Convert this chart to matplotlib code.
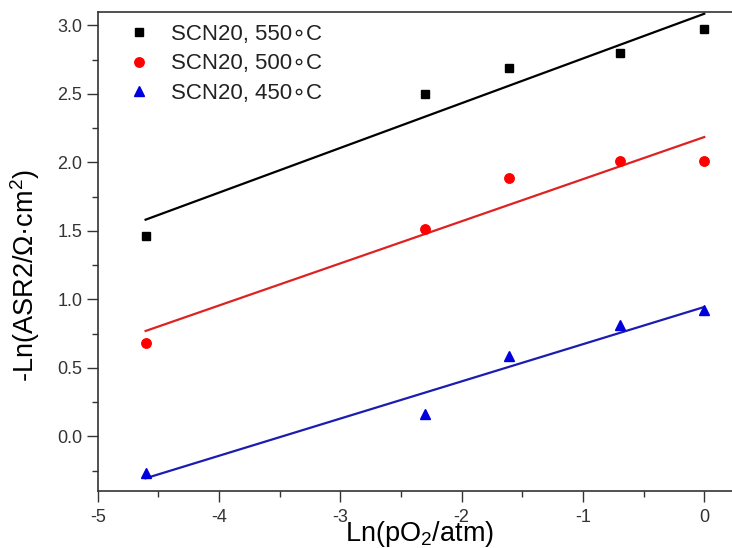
import numpy as np
import matplotlib
matplotlib.use("Agg")
import matplotlib.pyplot as plt
from matplotlib.ticker import MultipleLocator

plt.rcParams["font.family"] = ["Liberation Sans", "DejaVu Sans"]
plt.rcParams["mathtext.fontset"] = "custom"
plt.rcParams["mathtext.rm"] = "Liberation Sans"
plt.rcParams["mathtext.it"] = "Liberation Sans:italic"

# ln(pO2 / atm) for pO2 = 0.01, 0.1, 0.2, 0.5, 1 atm
ln_po2 = np.log([0.01, 0.1, 0.2, 0.5, 1.0])

y_550 = [1.464, 2.496, 2.690, 2.795, 2.971]
y_500 = [0.679, 1.511, 1.885, 2.009, 2.009]
y_450 = [-0.263, 0.163, 0.588, 0.812, 0.924]

labels = ["SCN20, 550\u2218C", "SCN20, 500\u2218C", "SCN20, 450\u2218C"]
marker_colors = ["black", "#ff0000", "#0000dd"]
line_colors = ["black", "#dd2222", "#1c1cb0"]
markers = ["s", "o", "^"]
msizes = [6.0, 6.8, 7.5]

fig = plt.figure(figsize=(7.32, 5.48), dpi=100)
ax = fig.add_axes([0.1335, 0.1035, 0.8783, 0.8741])

for ys, lab, mc, lc, mk, ms in zip([y_550, y_500, y_450], labels,
                                    marker_colors, line_colors, markers, msizes):
    ax.plot(ln_po2, ys, linestyle="none", marker=mk, color=mc,
            markersize=ms, label=lab, zorder=3)
    slope, intercept = np.polyfit(ln_po2, ys, 1)
    xs = np.array([ln_po2.min(), ln_po2.max()])
    ax.plot(xs, slope * xs + intercept, color=lc, linewidth=1.6, zorder=2)

ax.set_xlim(-5, 0.3)
ax.set_ylim(-0.4, 3.095)
ax.xaxis.set_minor_locator(MultipleLocator(0.5))
ax.yaxis.set_minor_locator(MultipleLocator(0.25))
ax.set_xticks([-5, -4, -3, -2, -1, 0])
ax.set_xticklabels(["-5", "-4", "-3", "-2", "-1", "0"])
ax.set_yticks([0.0, 0.5, 1.0, 1.5, 2.0, 2.5, 3.0])
ax.set_yticklabels(["0.0", "0.5", "1.0", "1.5", "2.0", "2.5", "3.0"])

ax.tick_params(which="major", direction="out", length=8, width=1.0,
               labelsize=13, colors="#333333", labelcolor="#333333")
ax.tick_params(which="minor", direction="out", length=4.5, width=1.0,
               colors="#333333")
ax.tick_params(axis="x", pad=5)
ax.tick_params(axis="y", pad=3)
for side in ["top", "left", "bottom", "right"]:
    ax.spines[side].set_linewidth(1.2)
    ax.spines[side].set_color("#333333")

ax.set_xlabel("Ln(pO$_2$/atm)", fontsize=19.5, labelpad=-5)
ax.set_ylabel("-Ln(ASR2/\u03a9\u00b7cm$^2$)", fontsize=19.5)
ax.yaxis.set_label_coords(-0.087, 0.45)

leg = ax.legend(loc="upper left", frameon=False, fontsize=16,
                handlelength=1.0, handletextpad=0.95, labelspacing=0.38,
                borderaxespad=0.3, bbox_to_anchor=(0.022, 1.008))
for t in leg.get_texts():
    t.set_color("#222222")

fig.savefig("out.png", dpi=100)
